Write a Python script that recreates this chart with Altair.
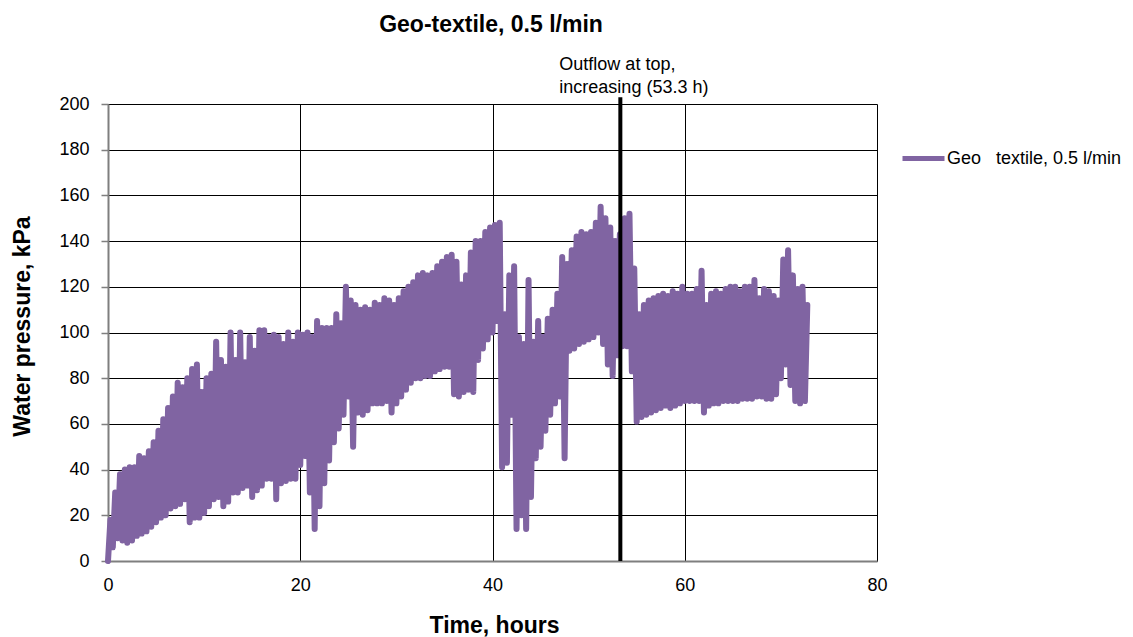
import altair as alt
import pandas as pd

FONT = "Liberation Sans"
PURPLE = "#8064A2"

# Pressure readings sampled every half hour: trough and peak of each pump cycle (kPa)
hours = [i * 0.5 for i in range(146)]

peak_kpa = [
    18, 30, 38, 40, 41, 41, 46, 45, 48, 52,
    57, 62, 67, 72, 78, 76, 80, 84, 86, 74,
    80, 82, 96, 88, 85, 100, 88, 100, 87, 98,
    92, 101, 101, 98, 99, 98, 95, 100, 96, 100,
    99, 100, 98, 105, 102, 102, 102, 108, 104, 120,
    114, 112, 110, 111, 110, 113, 112, 115, 114, 112,
    115, 118, 120, 122, 125, 126, 125, 126, 129, 131,
    133, 134, 131, 121, 125, 135, 140, 140, 144, 146,
    147, 148, 108, 125, 129, 98, 95, 123, 96, 105,
    98, 106, 110, 117, 133, 130, 136, 142, 144, 143,
    144, 148, 155, 150, 146, 140, 143, 150, 152, 128,
    108, 112, 114, 115, 116, 117, 116, 118, 117, 120,
    117, 117, 119, 127, 112, 117, 118, 117, 119, 120,
    120, 118, 120, 120, 123, 115, 119, 118, 116, 114,
    132, 136, 125, 119, 120, 112,
]

trough_kpa = [
    0, 6, 10, 9, 8, 9, 11, 12, 13, 15,
    17, 19, 20, 23, 24, 25, 27, 17, 19, 19,
    21, 24, 27, 28, 24, 26, 30, 30, 32, 33,
    28, 31, 33, 36, 36, 27, 34, 35, 36, 36,
    42, 46, 30, 14, 24, 34, 44, 52, 58, 64,
    72, 50, 65, 64, 66, 69, 69, 69, 70, 65,
    69, 72, 75, 78, 80, 80, 81, 81, 83, 84,
    85, 85, 73, 72, 74, 75, 74, 88, 93, 97,
    100, 105, 41, 43, 64, 14, 20, 14, 28, 45,
    50, 57, 64, 69, 72, 45, 92, 93, 95, 96,
    97, 98, 100, 95, 86, 81, 90, 94, 94, 83,
    61, 63, 64, 65, 66, 67, 68, 67, 68, 69,
    70, 70, 70, 70, 65, 68, 69, 69, 70, 70,
    70, 70, 71, 71, 71, 72, 72, 71, 71, 73,
    80, 86, 77, 70, 69, 70,
]

SERIES = "Geo\u00a0\u00a0\u00a0textile, 0.5 l/min"
OUTFLOW_H = 53.3

# Each half-hour slot holds one trough followed by one peak
rows = []
for t, lo, hi in zip(hours, trough_kpa, peak_kpa):
    rows.append({"time": t, "pressure": lo, "series": SERIES})
    rows.append({"time": t + 0.25, "pressure": hi, "series": SERIES})
df = pd.DataFrame(rows)

x_scale = alt.Scale(domain=[0, 80], nice=False, zero=False)
y_scale = alt.Scale(domain=[0, 200], nice=False)

pressure = alt.Chart(df).mark_line(
    strokeWidth=6, strokeCap="round", strokeJoin="round"
).encode(
    x=alt.X(
        "time:Q",
        scale=x_scale,
        axis=alt.Axis(
            values=[0, 20, 40, 60, 80],
            title="Time, hours",
            titleFont=FONT,
            titleFontSize=23,
            titleFontWeight="bold",
            titleColor="black",
            titleBaseline="alphabetic",
            titleX=386,
            titleY=71,
            labelFont=FONT,
            labelFontSize=18,
            labelColor="black",
            labelPadding=15,
            labelFlush=False,
            ticks=False,
            domainColor="#7f7f7f",
            domainWidth=2,
            gridColor="black",
            gridWidth=1,
        ),
    ),
    y=alt.Y(
        "pressure:Q",
        scale=y_scale,
        axis=alt.Axis(
            values=list(range(0, 201, 20)),
            title="Water pressure, kPa",
            titleFont=FONT,
            titleFontSize=23,
            titleFontWeight="bold",
            titleColor="black",
            titleAngle=270,
            titleBaseline="alphabetic",
            titleAlign="center",
            titleX=-79,
            titleY=222,
            labelFont=FONT,
            labelFontSize=18,
            labelColor="black",
            labelPadding=12,
            tickSize=7,
            tickColor="#7f7f7f",
            tickWidth=1.5,
            domainColor="#7f7f7f",
            domainWidth=2,
            gridColor="black",
            gridWidth=1,
        ),
    ),
    color=alt.Color(
        "series:N",
        scale=alt.Scale(domain=[SERIES], range=[PURPLE]),
        legend=alt.Legend(
            title=None,
            orient="none",
            legendX=792,
            legendY=31,
            padding=0,
            symbolType="stroke",
            symbolSize=1764,
            symbolStrokeWidth=5,
            labelFont=FONT,
            labelFontSize=18,
            labelColor="black",
            labelOffset=0,
            labelLimit=400,
        ),
    ),
)

marker_df = pd.DataFrame({
    "time": [OUTFLOW_H],
    "base": [0],
    "top": [203],
    "note": [f"Outflow at top,\nincreasing ({OUTFLOW_H} h)"],
})

outflow = alt.Chart(marker_df).mark_rule(color="black", strokeWidth=4).encode(
    x=alt.X("time:Q", scale=x_scale),
    y=alt.Y("base:Q", scale=y_scale),
    y2="top:Q",
)

outflow_note = alt.Chart(marker_df).mark_text(
    align="left", baseline="alphabetic", font=FONT, fontSize=18,
    lineBreak="\n", lineHeight=23, dx=-61, color="black",
).encode(
    x=alt.X("time:Q", scale=x_scale),
    y=alt.value(-34),
    text="note:N",
)

heading = alt.Chart(pd.DataFrame({"t": ["Geo-textile, 0.5 l/min"]})).mark_text(
    align="center", baseline="alphabetic", font=FONT, fontSize=23,
    fontWeight="bold", color="black",
).encode(x=alt.value(383), y=alt.value(-72), text="t:N")

chart = alt.layer(pressure, outflow, outflow_note, heading).properties(
    width=769,
    height=457,
    autosize=alt.AutoSizeParams(type="none"),
    padding={"left": 108, "top": 104, "right": 256, "bottom": 76},
    background="white",
).configure_view(stroke=None)

chart.save("out.html", embed_options={"renderer": "svg", "actions": False})
